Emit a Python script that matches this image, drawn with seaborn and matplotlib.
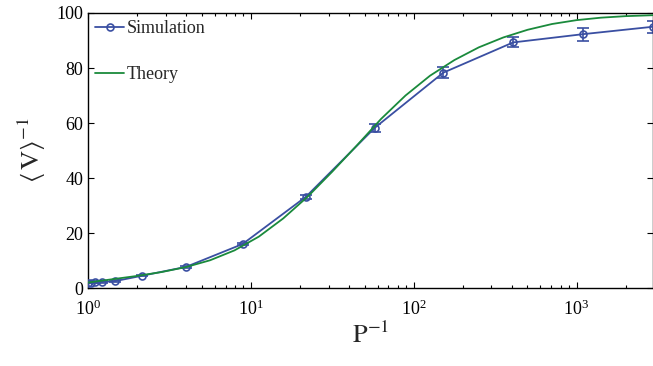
import matplotlib
matplotlib.use("Agg")
import matplotlib.pyplot as plt
import seaborn as sns
import numpy as np
import pandas as pd
from matplotlib.ticker import LogFormatterMathtext, LogLocator, FixedLocator

# ---- data ----
sim_x = [1.0, 1.05, 1.1, 1.22, 1.46, 2.16, 4.0, 8.9, 21.8, 57.8, 152, 408, 1096, 2950]
sim_y = [2.0, 2.0, 2.1, 2.2, 2.5, 4.5, 7.7, 16.0, 33.2, 58.3, 78.3, 89.3, 92.3, 95.0]
sim_err = [0.3, 0.3, 0.3, 0.3, 0.3, 0.3, 0.4, 0.5, 0.7, 1.5, 2.0, 1.8, 2.4, 2.2]

theory_x = [1.0, 1.41, 2.0, 2.82, 3.98, 5.62, 7.94, 11.2, 15.8, 22.4, 31.6, 44.7,
            63.1, 89.1, 126, 178, 251, 355, 501, 708, 1000, 1413, 1995, 2950]
theory_y = [2.0, 3.2, 4.4, 5.8, 7.6, 10.1, 13.7, 18.7, 25.3, 33.3, 42.3, 51.8,
            61.5, 70.0, 77.2, 82.9, 87.5, 91.1, 93.9, 96.0, 97.4, 98.3, 98.85, 99.2]

x_ticks = [1, 10, 100, 1000]
y_ticks = [0, 20, 40, 60, 80, 100]

BLUE = "#3a4fa2"
GREEN = "#1a8a3c"

sns.set_theme(style="ticks")
plt.rcParams['font.family'] = ['Liberation Serif', 'DejaVu Serif']
plt.rcParams['mathtext.fontset'] = 'stix'

fig = plt.figure(figsize=(6.53, 3.66), dpi=100)
ax = fig.add_axes([0.1348, 0.213, 0.8652, 0.7515])

sim_df = pd.DataFrame({"x": sim_x, "y": sim_y, "err": sim_err})
th_df = pd.DataFrame({"x": theory_x, "y": theory_y})

ax.errorbar(sim_df["x"], sim_df["y"], yerr=sim_df["err"], fmt="none",
            ecolor=BLUE, elinewidth=1.2, capsize=4.5, capthick=1.2, zorder=2)
sns.lineplot(data=sim_df, x="x", y="y", ax=ax, color=BLUE, lw=1.3,
             marker="o", markersize=5, markerfacecolor="none",
             markeredgecolor=BLUE, markeredgewidth=1.2, label="Simulation",
             zorder=3)
sns.lineplot(data=th_df, x="x", y="y", ax=ax, color=GREEN, lw=1.3,
             label="Theory", zorder=4)

ax.set_xscale("log")
ax.set_xlim(1, 2950)
ax.set_ylim(0, 100)
ax.xaxis.set_major_locator(FixedLocator(x_ticks))
ax.xaxis.set_major_formatter(LogFormatterMathtext())
ax.xaxis.set_minor_locator(LogLocator(base=10, subs=np.arange(2, 10)))
ax.set_yticks(y_ticks)

ax.tick_params(axis="both", which="both", direction="in", top=True, right=True,
               labelsize=13, colors="black", width=0.8)
ax.tick_params(axis="both", which="major", length=4)
ax.tick_params(axis="x", which="minor", length=2.5)
ax.tick_params(axis="x", pad=8)
for s in ax.spines.values():
    s.set_color("black")
    s.set_linewidth(1.0)
    s.set_visible(True)

ax.set_xlabel(r"$\mathrm{P}^{-1}$", fontsize=19, labelpad=2)
ax.set_ylabel(r"$\langle\,\mathrm{V}\rangle^{-1}$", fontsize=19, labelpad=6)

leg = ax.legend(loc="upper left", frameon=False, fontsize=13, handlelength=1.6,
                handletextpad=0.15, labelspacing=1.6, borderaxespad=0.3,
                borderpad=0.1)

fig.savefig("out.png", dpi=100)
